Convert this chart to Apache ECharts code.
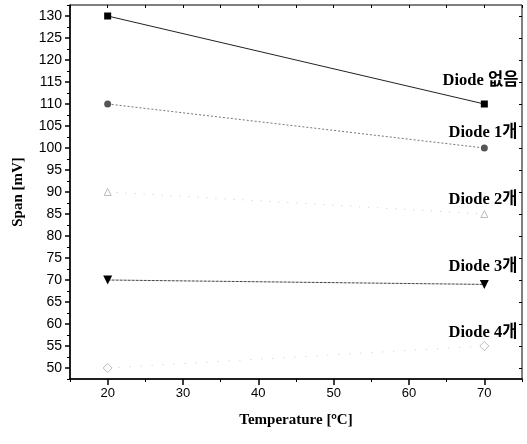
<!DOCTYPE html>
<html>
<head>
<meta charset="utf-8">
<script src="https://cdn.jsdelivr.net/npm/echarts@6/dist/echarts.min.js"></script>
<style>html,body{margin:0;padding:0;background:#fff}#c{width:527px;height:444px}</style>
</head>
<body>
<div id="c"></div>
<script>
// ---- data ----
const temperatures = [20, 70];
const seriesNames = ['Diode 없음', 'Diode 1개', 'Diode 2개', 'Diode 3개', 'Diode 4개'];
const diode0 = [130, 110];
const diode1 = [110, 100];
const diode2 = [90, 85];
const diode3 = [70, 69];
const diode4 = [50, 55];
const xTickLabels = [20, 30, 40, 50, 60, 70];
const xMinorTicks = [15, 25, 35, 45, 55, 65, 75];
const yTickLabels = [50, 55, 60, 65, 70, 75, 80, 85, 90, 95, 100, 105, 110, 115, 120, 125, 130];
const yMinorTicks = [47.5, 52.5, 57.5, 62.5, 67.5, 72.5, 77.5, 82.5, 87.5, 92.5, 97.5, 102.5, 107.5, 112.5, 117.5, 122.5, 127.5, 132.5];

const X_MIN = 15, X_MAX = 75, Y_MIN = 47.5, Y_MAX = 132.5;
const serif = '"Liberation Serif","Times New Roman","Noto Sans CJK KR",serif';
const sans = '"Liberation Sans",Arial,sans-serif';

function pts(vals, labelOpts) {
  return vals.map((v, i) => {
    const d = { value: [temperatures[i], v] };
    if (i === vals.length - 1) d.label = labelOpts;
    return d;
  });
}
function lab(name, off) {
  return {
    show: true, formatter: name, position: 'top', align: 'right', verticalAlign: 'middle',
    offset: off, fontFamily: serif, fontWeight: 'bold', fontSize: 16.5, color: '#000'
  };
}

const chart = echarts.init(document.getElementById('c'), null, { renderer: 'canvas' });
const axisLineStyle = { show: true, lineStyle: { color: '#000', width: 1.5 } };
const hidden = { show: false };

chart.setOption({
  animation: false,
  backgroundColor: '#fff',
  grid: { left: 70, right: 5, top: 5, bottom: 65, show: true, borderColor: '#000', borderWidth: 1 },
  xAxis: [
    {
      type: 'value', min: X_MIN, max: X_MAX, interval: 5, position: 'bottom',
      axisLine: axisLineStyle,
      axisTick: { show: true, customValues: xTickLabels, length: 6, lineStyle: { color: '#000', width: 1.5 } },
      axisLabel: { customValues: xTickLabels, color: '#000', fontFamily: sans, fontSize: 13, margin: 8 },
      splitLine: hidden,
      name: 'Temperature [{sup|o}C]', nameLocation: 'middle', nameGap: 33,
      nameTextStyle: {
        fontFamily: serif, fontWeight: 'bold', fontSize: 15, color: '#000',
        rich: { sup: { fontFamily: sans, fontSize: 9, verticalAlign: 'top', padding: [0, 0, 8, 0], color: '#000' } }
      }
    },
    {
      type: 'value', min: X_MIN, max: X_MAX, interval: 5, position: 'bottom',
      axisLine: hidden,
      axisTick: { show: true, customValues: xMinorTicks, length: 3, lineStyle: { color: '#000', width: 1 } },
      axisLabel: hidden, splitLine: hidden
    },
    {
      type: 'value', min: X_MIN, max: X_MAX, interval: 5, position: 'top',
      axisLine: hidden,
      axisTick: { show: true, inside: true, customValues: xMinorTicks.concat(xTickLabels), length: 3, lineStyle: { color: '#000', width: 1 } },
      axisLabel: hidden, splitLine: hidden
    }
  ],
  yAxis: [
    {
      type: 'value', min: Y_MIN, max: Y_MAX, interval: 2.5, position: 'left',
      axisLine: axisLineStyle,
      axisTick: { show: true, customValues: yTickLabels, length: 5, lineStyle: { color: '#000', width: 1.5 } },
      axisLabel: { customValues: yTickLabels, color: '#000', fontFamily: sans, fontSize: 14, margin: 8 },
      splitLine: hidden,
      name: 'Span [mV]', nameLocation: 'middle', nameGap: 44, nameRotate: 90,
      nameTextStyle: { fontFamily: serif, fontWeight: 'bold', fontSize: 15, color: '#000' }
    },
    {
      type: 'value', min: Y_MIN, max: Y_MAX, interval: 2.5, position: 'left',
      axisLine: hidden,
      axisTick: { show: true, customValues: yMinorTicks, length: 3, lineStyle: { color: '#000', width: 1 } },
      axisLabel: hidden, splitLine: hidden
    },
    {
      type: 'value', min: Y_MIN, max: Y_MAX, interval: 2.5, position: 'right',
      axisLine: hidden,
      axisTick: { show: true, inside: true, customValues: yTickLabels, length: 3, lineStyle: { color: '#000', width: 1 } },
      axisLabel: hidden, splitLine: hidden
    }
  ],
  series: [
    {
      name: seriesNames[0], type: 'line', xAxisIndex: 0, yAxisIndex: 0,
      data: pts(diode0, lab(seriesNames[0], [34, -15])),
      symbol: 'rect', symbolSize: 7, itemStyle: { color: '#000' },
      lineStyle: { color: '#222', width: 1, type: 'solid' }
    },
    {
      name: seriesNames[1], type: 'line', xAxisIndex: 0, yAxisIndex: 0,
      data: pts(diode1, lab(seriesNames[1], [33, -7])),
      symbol: 'circle', symbolSize: 7, itemStyle: { color: '#555' },
      lineStyle: { color: '#777', width: 1, type: [2, 2] }
    },
    {
      name: seriesNames[2], type: 'line', xAxisIndex: 0, yAxisIndex: 0,
      data: pts(diode2, lab(seriesNames[2], [33, -5])),
      symbol: 'triangle', symbolSize: 7, itemStyle: { color: '#fff', borderColor: '#bbb', borderWidth: 1 },
      lineStyle: { color: '#ccc', width: 1, type: [1, 8] }
    },
    {
      name: seriesNames[3], type: 'line', xAxisIndex: 0, yAxisIndex: 0,
      data: pts(diode3, lab(seriesNames[3], [33, -8])),
      symbol: 'triangle', symbolRotate: 180, symbolSize: 9, itemStyle: { color: '#000' },
      lineStyle: { color: '#444', width: 1, type: [3, 1] }
    },
    {
      name: seriesNames[4], type: 'line', xAxisIndex: 0, yAxisIndex: 0,
      data: pts(diode4, lab(seriesNames[4], [33, -3])),
      symbol: 'diamond', symbolSize: 9, itemStyle: { color: '#fff', borderColor: '#bbb', borderWidth: 1 },
      lineStyle: { color: '#ccc', width: 1, type: [1, 10] }
    }
  ]
});
</script>
</body>
</html>
